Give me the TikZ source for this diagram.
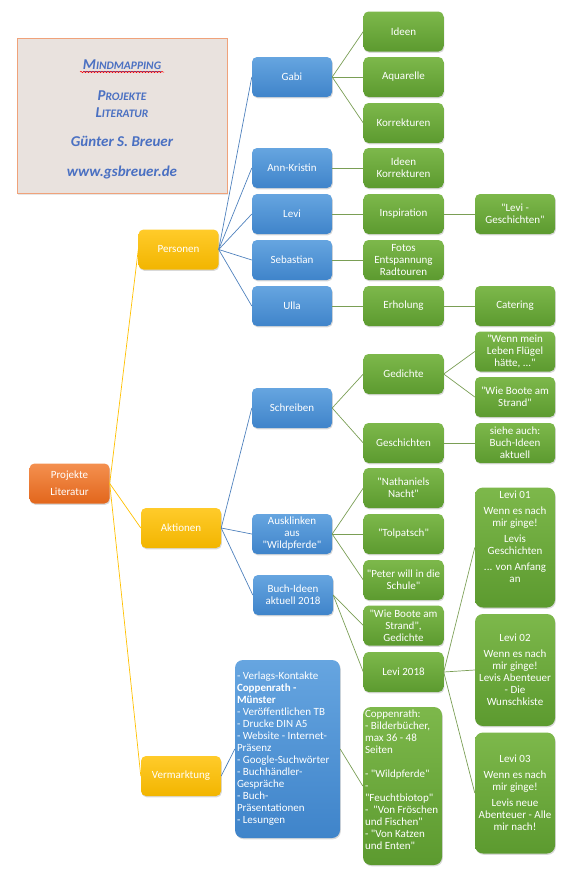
\documentclass[tikz,border=0pt]{standalone}
\usepackage{fontspec}
\setmainfont{Carlito}[Ligatures=TeXOff]
\usepackage{tikz}
\usetikzlibrary{shadows, decorations.pathmorphing}
\definecolor{mmorangetop}{HTML}{F4904F}
\definecolor{mmorangebot}{HTML}{E2661C}
\definecolor{mmyellowtop}{HTML}{FFCB2A}
\definecolor{mmyellowbot}{HTML}{F2B500}
\definecolor{mmbluetop}{HTML}{66A5E0}
\definecolor{mmbluebot}{HTML}{3F84CA}
\definecolor{mmgreentop}{HTML}{7DB84B}
\definecolor{mmgreenbot}{HTML}{5C9A2F}
\definecolor{mmyline}{HTML}{FFC000}
\definecolor{mmbline}{HTML}{4F81BD}
\definecolor{mmgline}{HTML}{7A9E55}
\definecolor{mmtitle}{HTML}{4A70C2}
\definecolor{mmtitlebg}{HTML}{E9E2DE}
\definecolor{mmtitleframe}{HTML}{F0A27A}

\newcommand\mmsc[1]{{\fontsize{11.5}{12}\selectfont #1}}

\begin{document}
\begin{tikzpicture}[x=1pt, y=-1pt,
  base/.style={rounded corners=5pt, text=white, align=center, font=\fontsize{11}{12}\selectfont,
    minimum width=80pt, minimum height=40pt, inner sep=2pt,
    drop shadow={shadow xshift=0.8pt, shadow yshift=-1.3pt, opacity=0.3}},
  root/.style={base, top color=mmorangetop, bottom color=mmorangebot},
  cat/.style={base, top color=mmyellowtop, bottom color=mmyellowbot},
  sub/.style={base, top color=mmbluetop, bottom color=mmbluebot},
  leaf/.style={base, top color=mmgreentop, bottom color=mmgreenbot},
  ylink/.style={draw=mmyline, line width=0.7pt},
  blink/.style={draw=mmbline, line width=0.7pt},
  glink/.style={draw=mmgline, line width=0.7pt}
]
  \useasboundingbox (0,0) rectangle (576,878);

  % title card
  \node[draw=mmtitleframe, fill=mmtitlebg, minimum width=210pt, minimum height=155pt, text=mmtitle,
    align=center, font=\fontsize{15}{17}\selectfont\bfseries\itshape,
    drop shadow={shadow xshift=1pt, shadow yshift=-1.5pt, opacity=0.2}] (title) at (122,115.5)
    {\rule{0pt}{18pt}\underline{M\mmsc{INDMAPPING}}\\[14pt] P\mmsc{ROJEKTE}\\ L\mmsc{ITERATUR}\\[12pt] Günter S. Breuer\\[13pt] www.gsbreuer.de};
  \coordinate (sqa) at (80,72);
  \coordinate (sqb) at (164,72);
  \draw[red, line width=0.5pt, decorate, decoration={snake, amplitude=0.7pt, segment length=3pt}] (sqa) -- (sqb);

  % root and main branches
  \node[root] (root) at (69.5,483.5) {Projekte\\[5pt] Literatur};
  \node[cat] (pers) at (178.5,249.5) {Personen};
  \node[cat] (akt) at (181,528) {Aktionen};
  \node[cat] (verm) at (181,776) {Vermarktung};

  % Personen
  \node[sub] (gabi) at (292,77) {Gabi};
  \node[sub] (ann) at (292,168) {Ann-Kristin};
  \node[sub] (levi) at (292,214) {Levi};
  \node[sub] (seb) at (292,260) {Sebastian};
  \node[sub] (ulla) at (292,306) {Ulla};

  \node[leaf] (ideen) at (403.5,31.5) {Ideen};
  \node[leaf] (aqua) at (403.5,77) {Aquarelle};
  \node[leaf] (korr) at (403.5,123) {Korrekturen};
  \node[leaf] (annk) at (403.5,168) {Ideen\\ Korrekturen};
  \node[leaf] (insp) at (403.5,214) {Inspiration};
  \node[leaf] (fotos) at (403.5,260) {Fotos\\ Entspannung\\ Radtouren};
  \node[leaf] (erh) at (403.5,306) {Erholung};
  \node[leaf] (levigesch) at (515,214) {"Levi -\\ Geschichten"};
  \node[leaf] (cater) at (515,306) {Catering};

  % Aktionen
  \node[sub] (schreib) at (292,408) {Schreiben};
  \node[sub] (auskl) at (292,534) {Ausklinken\\ aus\\ "Wildpferde"};
  \node[sub] (buch) at (293,595) {Buch-Ideen\\ aktuell 2018};

  \node[leaf] (gedi) at (403.5,374) {Gedichte};
  \node[leaf] (gesch) at (403.5,443) {Geschichten};
  \node[leaf] (wennmein) at (515,351.5) {"Wenn mein\\ Leben Flügel\\ hätte, ..."};
  \node[leaf] (boote) at (515,397) {"Wie Boote am\\ Strand"};
  \node[leaf] (siehe) at (515,443) {siehe auch:\\ Buch-Ideen\\ aktuell};
  \node[leaf] (nath) at (403.5,488) {"Nathaniels\\ Nacht"};
  \node[leaf] (tolp) at (403.5,534) {"Tolpatsch"};
  \node[leaf] (peter) at (403.5,580) {"Peter will in die\\ Schule"};
  \node[leaf] (boote2) at (403.5,625.5) {"Wie Boote am\\ Strand",\\ Gedichte};
  \node[leaf] (levi18) at (403.5,672) {Levi 2018};

  \node[leaf, rounded corners=8pt, minimum height=120pt] (levi01) at (515,547.5)
    {\parbox[c][113pt][t]{76pt}{\centering Levi 01\\[4pt] Wenn es nach\\ mir ginge!\\[4pt] Levis\\ Geschichten\\[4pt] ... von Anfang\\ an}};
  \node[leaf, rounded corners=8pt, minimum height=112pt] (levi02) at (515,670)
    {Levi 02\\[4pt] Wenn es nach\\ mir ginge!\\ Levis Abenteuer\\ - Die\\ Wunschkiste};
  \node[leaf, rounded corners=8pt, minimum height=121pt] (levi03) at (515,793)
    {Levi 03\\[4pt] Wenn es nach\\ mir ginge!\\[4pt] Levis neue\\ Abenteuer - Alle\\ mir nach!};

  % Vermarktung
  \node[sub, rounded corners=8pt, minimum width=105pt, minimum height=178pt] (liste) at (287.5,749)
    {\parbox{101pt}{\raggedright - Verlags-Kontakte\\ \textbf{Coppenrath -}\\ \textbf{Münster}\\ - Veröffentlichen TB\\
     - Drucke DIN A5\\ - Website - Internet-\\ Präsenz\\ - Google-Suchwörter\\ - Buchhändler-\\ Gespräche\\
     - Buch-\\ Präsentationen\\ - Lesungen}};
  \node[leaf, rounded corners=8pt, minimum width=79pt, minimum height=158pt] (coppen) at (402.5,786)
    {\parbox[c][152pt][t]{75pt}{\raggedright Coppenrath:\\ - Bilderbücher,\\ max 36 - 48\\ Seiten\\[12pt]
     - "Wildpferde"\\ -\\ "Feuchtbiotop"\\ -~~"Von Fröschen\\ und Fischen"\\ - "Von Katzen\\ und Enten"}};

  % connectors
  \foreach \n in {pers, akt, verm}
    \draw[ylink] (root.east) -- (\n.west);
  \foreach \n in {gabi, ann, levi, seb, ulla}
    \draw[blink] (pers.east) -- (\n.west);
  \foreach \n in {schreib, auskl, buch}
    \draw[blink] (akt.east) -- (\n.west);
  \draw[blink] (verm.east) -- (liste.west);
  \foreach \n in {ideen, aqua, korr}
    \draw[glink] (gabi.east) -- (\n.west);
  \draw[glink] (ann.east) -- (annk.west);
  \draw[glink] (levi.east) -- (insp.west);
  \draw[glink] (insp.east) -- (levigesch.west);
  \draw[glink] (seb.east) -- (fotos.west);
  \draw[glink] (ulla.east) -- (erh.west);
  \draw[glink] (erh.east) -- (cater.west);
  \draw[glink] (schreib.east) -- (gedi.west);
  \draw[glink] (schreib.east) -- (gesch.west);
  \draw[glink] (gedi.east) -- (wennmein.west);
  \draw[glink] (gedi.east) -- (boote.west);
  \draw[glink] (gesch.east) -- (siehe.west);
  \foreach \n in {nath, tolp, peter}
    \draw[glink] (auskl.east) -- (\n.west);
  \draw[glink] (buch.east) -- (boote2.west);
  \draw[glink] (buch.east) -- (levi18.west);
  \foreach \n in {levi01, levi02, levi03}
    \draw[glink] (levi18.east) -- (\n.west);
  \draw[glink] (liste.east) -- (coppen.west);
\end{tikzpicture}
\end{document}
